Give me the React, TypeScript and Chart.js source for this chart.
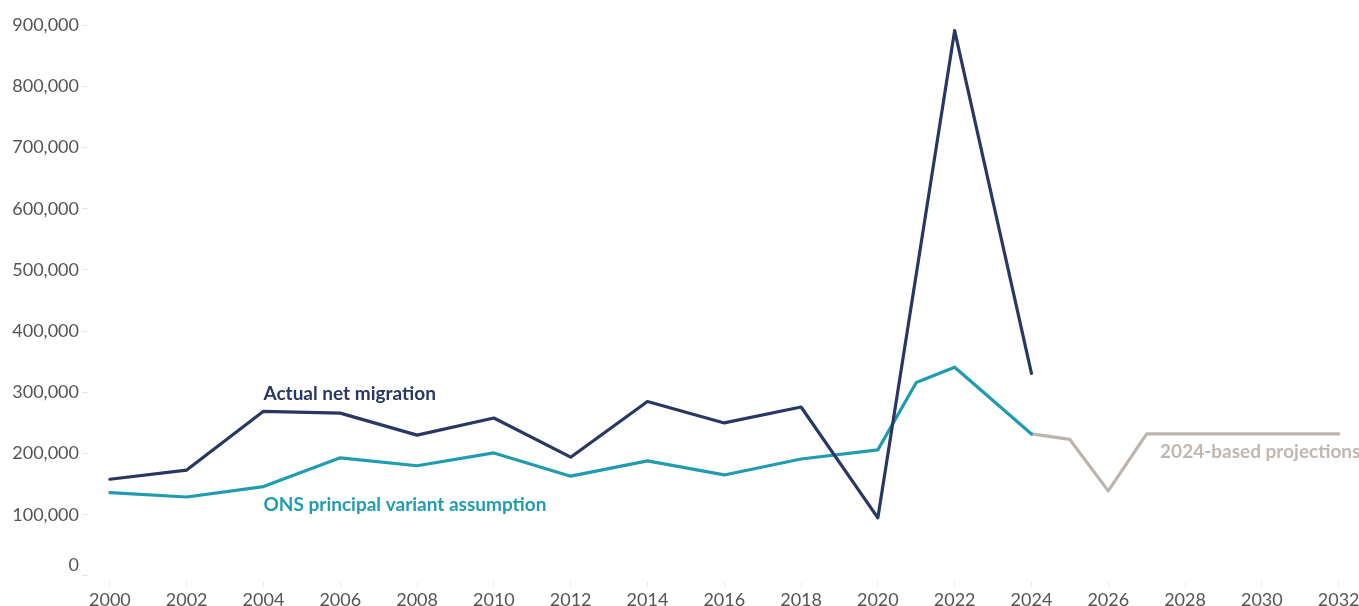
import React, { useEffect, useRef } from "react";
import { Chart, registerables } from "chart.js";

Chart.register(...registerables);

const actualYears = [2000, 2002, 2004, 2006, 2008, 2010, 2012, 2014, 2016, 2018, 2020, 2022, 2024];
const actualValues = [158000, 173000, 269000, 266000, 230000, 258000, 194000, 285000, 250000, 276000, 95000, 891000, 331000];

const onsYears = [2000, 2002, 2004, 2006, 2008, 2010, 2012, 2014, 2016, 2018, 2020, 2021, 2022, 2024];
const onsValues = [136000, 129000, 146000, 193000, 180000, 201000, 163000, 188000, 165000, 191000, 206000, 316000, 341000, 232000];

const projYears = [2024, 2025, 2026, 2027, 2028, 2029, 2030, 2031, 2032];
const projValues = [232000, 223000, 139000, 232000, 232000, 232000, 232000, 232000, 232000];

const xTicks = [2000, 2002, 2004, 2006, 2008, 2010, 2012, 2014, 2016, 2018, 2020, 2022, 2024, 2026, 2028, 2030, 2032];
const yTicks = [0, 100000, 200000, 300000, 400000, 500000, 600000, 700000, 800000, 900000];

const NAVY = "#283862";
const TEAL = "#1f9caf";
const GREY = "#bdb4ae";

const labels = [
  { text: "Actual net migration", year: 2004, value: 298000, color: NAVY },
  { text: "ONS principal variant assumption", year: 2004, value: 116000, color: TEAL },
  { text: "2024-based projections", year: 2027.35, value: 202000, color: "#c0b7b0" },
];

const TICK_FONT = { family: "Lato, 'Open Sans', sans-serif", size: 18 };

const fmt = (v: number) => v.toLocaleString("en-US");

export default function App() {
  const ref = useRef<HTMLCanvasElement | null>(null);
  useEffect(() => {
    if (!ref.current) return;
    const annot = {
      id: "annot",
      afterDraw(chart: any) {
        const { ctx, scales } = chart;
        const x = scales.x;
        const y = scales.y;
        ctx.save();
        ctx.font = "bold 19px Lato, 'Open Sans', sans-serif";
        ctx.textBaseline = "middle";
        ctx.textAlign = "left";
        for (const l of labels) {
          ctx.fillStyle = l.color;
          ctx.fillText(l.text, x.getPixelForValue(l.year), y.getPixelForValue(l.value));
        }
        // zero label, raised above the baseline like the source
        ctx.font = `${TICK_FONT.size}px ${TICK_FONT.family}`;
        ctx.fillStyle = "#555";
        ctx.textAlign = "right";
        ctx.fillText("0", y.right - 9, y.getPixelForValue(0) - 11);
        ctx.restore();
      },
    };
    const chart = new Chart(ref.current, {
      type: "line",
      data: {
        datasets: [
          {
            label: "Actual net migration",
            data: actualYears.map((yr, i) => ({ x: yr, y: actualValues[i] })),
            borderColor: NAVY,
            borderWidth: 3.2,
            pointRadius: 0,
            borderJoinStyle: "round",
            borderCapStyle: "round",
          },
          {
            label: "ONS principal variant assumption",
            data: onsYears.map((yr, i) => ({ x: yr, y: onsValues[i] })),
            borderColor: TEAL,
            borderWidth: 3.2,
            pointRadius: 0,
            borderJoinStyle: "round",
            borderCapStyle: "round",
          },
          {
            label: "2024-based projections",
            data: projYears.map((yr, i) => ({ x: yr, y: projValues[i] })),
            borderColor: GREY,
            borderWidth: 3.2,
            pointRadius: 0,
            borderJoinStyle: "round",
            borderCapStyle: "round",
          },
        ],
      },
      options: {
        animation: false,
        responsive: true,
        maintainAspectRatio: false,
        layout: { padding: 0 },
        plugins: { legend: { display: false }, tooltip: { enabled: false } },
        scales: {
          x: {
            type: "linear",
            min: 1999.43,
            max: 2032.53,
            afterBuildTicks: (s: any) => {
              s.ticks = xTicks.map((v) => ({ value: v }));
            },
            afterFit: (s: any) => {
              s.height = 24;
              s.paddingLeft = 0;
              s.paddingRight = 0;
            },
            ticks: {
              callback: (v: any) => String(v),
              color: "#555",
              font: TICK_FONT,
              padding: 2,
              maxRotation: 0,
              autoSkip: false,
            },
            grid: { display: true, drawOnChartArea: false, drawTicks: true, tickLength: 5, color: "#e6e6e6" },
            border: { display: false },
          },
          y: {
            type: "linear",
            min: -9900,
            max: 918400,
            afterBuildTicks: (s: any) => {
              s.ticks = yTicks.map((v) => ({ value: v }));
            },
            afterFit: (s: any) => {
              s.width = 88;
            },
            ticks: {
              callback: (v: any) => (v === 0 ? "" : fmt(v)),
              color: "#555",
              font: TICK_FONT,
              padding: 3,
            },
            grid: { display: true, drawOnChartArea: false, drawTicks: true, tickLength: 6, color: "#e6e6e6" },
            border: { display: false },
          },
        },
      },
      plugins: [annot],
    } as any);
    return () => chart.destroy();
  }, []);
  return (
    <div style={{ position: "fixed", left: 0, top: 0, width: 1359, height: 606, background: "#fff" }}>
      <canvas ref={ref} />
    </div>
  );
}
